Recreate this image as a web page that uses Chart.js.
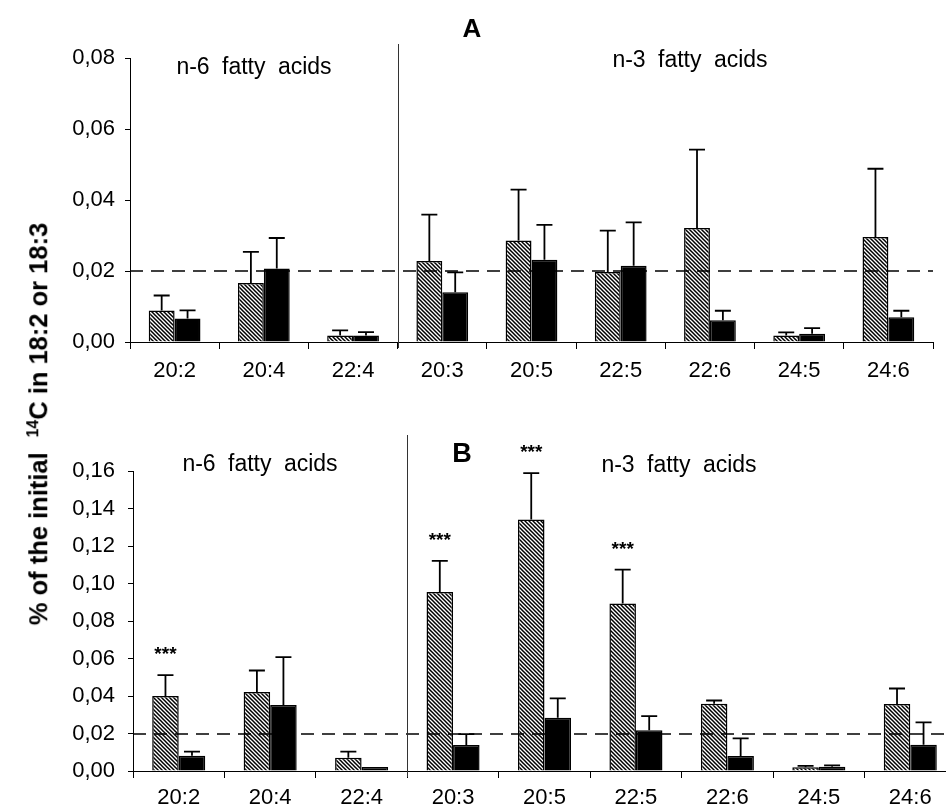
<!DOCTYPE html>
<html>
<head>
<meta charset="utf-8">
<script src="https://cdn.jsdelivr.net/npm/chart.js@4/dist/chart.umd.min.js"></script>
<style>
  html, body { margin: 0; padding: 0; background: #fff; overflow: hidden; }
  #wrap { position: relative; width: 946px; height: 811px; overflow: hidden; }
  #chartA { position: absolute; left: 0; top: 0; }
  #chartB { position: absolute; left: 0; top: 400px; }
  #ytitle {
    position: absolute; left: 39px; top: 424px;
    transform: translate(-50%, -50%) rotate(-90deg);
    font: bold 25.5px "Liberation Sans", Arial, sans-serif;
    white-space: nowrap; color: #000;
  }
  #ytitle sup { font-size: 0.62em; vertical-align: 0.6em; margin-left: 0.5em; }
</style>
</head>
<body>
<div id="wrap">
  <canvas id="chartA" width="946" height="400"></canvas>
  <canvas id="chartB" width="975" height="411"></canvas>
  <div id="ytitle">% of the initial <sup>14</sup>C in 18:2 or 18:3</div>
</div>
<script>
// categories (n-6: first three, n-3: the rest)
const categories = ['20:2', '20:4', '22:4', '20:3', '20:5', '22:5', '22:6', '24:5', '24:6'];

// panel A
const hatchedA = [0.0089, 0.0166, 0.0018, 0.0228, 0.0286, 0.0197, 0.0321, 0.0018, 0.0296];
const hatchedA_sd = [0.0042, 0.0088, 0.0015, 0.0131, 0.0143, 0.0117, 0.0221, 0.0009, 0.0192];
const blackA = [0.0066, 0.0207, 0.0018, 0.0140, 0.0232, 0.0215, 0.0061, 0.0023, 0.0070];
const blackA_sd = [0.0023, 0.0086, 0.0010, 0.0056, 0.0098, 0.0122, 0.0027, 0.0016, 0.0018];

// panel B
const hatchedB = [0.0400, 0.0421, 0.0071, 0.0955, 0.1341, 0.0893, 0.0359, 0.0020, 0.0357];
const hatchedB_sd = [0.0111, 0.0115, 0.0032, 0.0166, 0.0248, 0.0181, 0.0017, 0.0007, 0.0083];
const blackB = [0.0082, 0.0352, 0.0021, 0.0139, 0.0284, 0.0218, 0.0080, 0.0023, 0.0140];
const blackB_sd = [0.0021, 0.0255, 0, 0.0058, 0.0103, 0.0075, 0.0094, 0.0007, 0.0119];
const starsB = ['***', '', '', '***', '***', '***', '', '', ''];

const refLine = 0.02;
const FONT = '"Liberation Sans", Arial, sans-serif';

// diagonal hatch (top-left to bottom-right)
function makeHatch() {
  const s = 4;
  const c = document.createElement('canvas');
  c.width = s; c.height = s;
  const g = c.getContext('2d');
  g.fillStyle = '#fff';
  g.fillRect(0, 0, s, s);
  g.strokeStyle = '#000';
  g.lineWidth = 1.5;
  g.beginPath();
  g.moveTo(-1, -1); g.lineTo(s + 1, s + 1);
  g.moveTo(-1, s - 1); g.lineTo(1, s + 1);
  g.moveTo(s - 1, -1); g.lineTo(s + 1, 1);
  g.stroke();
  return g.createPattern(c, 'repeat');
}
const hatch = makeHatch();

// error bars, dashed line, separator and text
const annotate = {
  id: 'annotate',
  afterDatasetsDraw(chart, args, opts) {
    const ctx = chart.ctx;
    const area = chart.chartArea;
    const xs = chart.scales.x, ys = chart.scales.y;
    ctx.save();

    ctx.strokeStyle = '#000';
    ctx.lineWidth = 1.5;
    ctx.setLineDash([13, 8]);
    const yRef = Math.round(ys.getPixelForValue(refLine));
    ctx.beginPath();
    ctx.moveTo(area.left, yRef);
    ctx.lineTo(area.right, yRef);
    ctx.stroke();
    ctx.setLineDash([]);

    const xSep = Math.round((xs.getPixelForValue(2) + xs.getPixelForValue(3)) / 2) + 0.5;
    ctx.strokeStyle = '#333';
    ctx.lineWidth = 1;
    ctx.beginPath();
    ctx.moveTo(xSep, area.top - opts.sepAbove);
    ctx.lineTo(xSep, area.bottom + 6);
    ctx.stroke();

    ctx.strokeStyle = '#000';
    ctx.lineWidth = 1.8;
    opts.errors.forEach((sd, i) => {
      const meta = chart.getDatasetMeta(i);
      const vals = chart.data.datasets[i].data;
      meta.data.forEach((bar, j) => {
        if (!sd[j]) return;
        const top = ys.getPixelForValue(vals[j] + sd[j]);
        ctx.beginPath();
        ctx.moveTo(bar.x, bar.y);
        ctx.lineTo(bar.x, top);
        ctx.moveTo(bar.x - 8, top);
        ctx.lineTo(bar.x + 8, top);
        ctx.stroke();
      });
    });

    if (opts.stars) {
      const meta = chart.getDatasetMeta(0);
      const vals = chart.data.datasets[0].data;
      ctx.fillStyle = '#000';
      ctx.font = 'bold 19px ' + FONT;
      ctx.textAlign = 'center';
      ctx.textBaseline = 'alphabetic';
      opts.stars.forEach((s, j) => {
        if (!s) return;
        const top = ys.getPixelForValue(vals[j] + opts.errors[0][j]);
        ctx.fillText(s, meta.data[j].x, top - 26 + 11);
      });
    }

    ctx.fillStyle = '#000';
    ctx.textAlign = 'center';
    ctx.textBaseline = 'middle';
    opts.texts.forEach(t => {
      ctx.font = t.font;
      ctx.wordSpacing = t.ws || '0px';
      ctx.fillText(t.text, t.x, t.y);
    });
    ctx.restore();
  }
};

function makeChart(id, hatched, black, errors, opts) {
  return new Chart(document.getElementById(id), {
    type: 'bar',
    data: {
      labels: categories,
      datasets: [
        { data: hatched, backgroundColor: hatch, borderColor: '#000', borderWidth: 1.5 },
        { data: black, backgroundColor: '#000', borderColor: '#000', borderWidth: 1.5 }
      ]
    },
    options: {
      responsive: false,
      animation: false,
      layout: { padding: opts.padding },
      datasets: { bar: { categoryPercentage: 0.58, barPercentage: 1.0 } },
      scales: {
        x: {
          grid: { offset: true, drawOnChartArea: false, drawTicks: true, tickLength: 7, color: '#000' },
          border: { color: '#000', width: 1 },
          ticks: { color: '#000', font: { family: FONT, size: 22 }, padding: opts.xPad, maxRotation: 0 },
          afterFit(scale) { scale.height = opts.xHeight; }
        },
        y: {
          min: 0,
          max: opts.max,
          grid: { drawOnChartArea: false, drawTicks: true, tickLength: 5, color: '#000' },
          border: { color: '#000', width: 1 },
          ticks: {
            stepSize: 0.02,
            color: '#000',
            padding: opts.yPad,
            font: { family: FONT, size: 22 },
            callback: v => v.toFixed(2).replace('.', ',')
          },
          afterFit(scale) { scale.width = opts.yWidth; }
        }
      },
      plugins: {
        legend: { display: false },
        tooltip: { enabled: false },
        annotate: { errors: errors, stars: opts.stars, texts: opts.texts, sepAbove: opts.sepAbove }
      }
    },
    plugins: [annotate]
  });
}

makeChart('chartA', hatchedA, blackA, [hatchedA_sd, blackA_sd], {
  padding: { left: 0, top: 58, right: 13, bottom: 14 },
  max: 0.08, xHeight: 44, xPad: 9, yWidth: 130, yPad: 10, sepAbove: 14,
  texts: [
    { text: 'A', x: 472, y: 30, font: 'bold 26px ' + FONT },
    { text: 'n-6 fatty acids', x: 254, y: 68, font: '23px ' + FONT, ws: '6px' },
    { text: 'n-3 fatty acids', x: 690, y: 61, font: '23px ' + FONT, ws: '6px' }
  ]
});

makeChart('chartB', hatchedB, blackB, [hatchedB_sd, blackB_sd], {
  padding: { left: 0, top: 71, right: 19, bottom: 0 },
  max: 0.16, xHeight: 40, xPad: 7, yWidth: 133, yPad: 13, sepAbove: 36,
  stars: starsB,
  texts: [
    { text: 'B', x: 462, y: 55, font: 'bold 27px ' + FONT },
    { text: 'n-6 fatty acids', x: 260, y: 65, font: '23px ' + FONT, ws: '6px' },
    { text: 'n-3 fatty acids', x: 679, y: 66, font: '23px ' + FONT, ws: '6px' }
  ]
});
</script>
</body>
</html>
